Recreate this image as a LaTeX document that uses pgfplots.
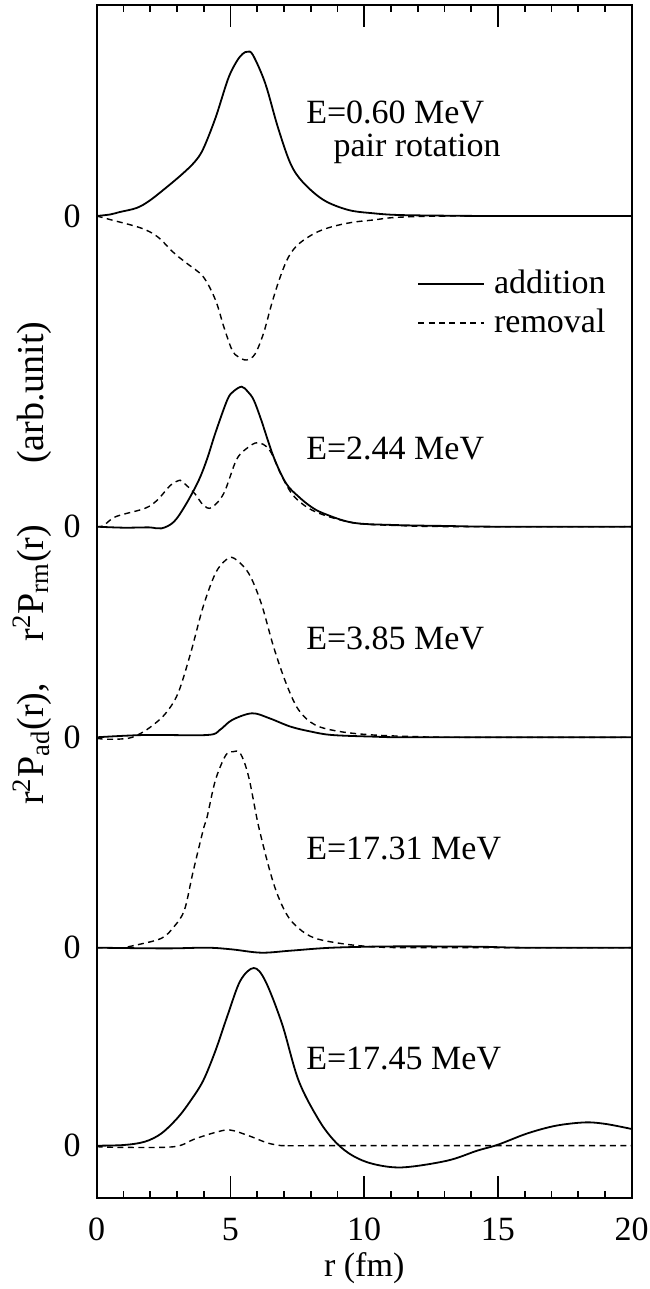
\documentclass[border=0pt]{standalone}
\usepackage{fontspec}
\setmainfont{Liberation Serif}
\usepackage{pgfplots}
\pgfplotsset{compat=1.18}
\usetikzlibrary{calc}
\begin{document}
\fontsize{17}{20}\selectfont
\begin{tikzpicture}
\begin{axis}[
  width=267.5pt, height=596.35pt, scale only axis,
  xmin=0, xmax=20, ymin=0, ymax=1192.7,
  xtick={0,5,10,15,20}, minor x tick num=4,
  major tick length=10.85pt, minor tick length=3.5pt,
  every tick/.style={black, line width=0.8pt},
  axis line style={line width=1pt},
  ytick={52,250,460.4,671,981.7}, yticklabels={0,0,0,0,0},
  ytick style={draw=none},
  /pgf/number format/assume math mode=true,
  xticklabel style={anchor=north, inner sep=0pt, yshift=-10pt},
  yticklabel style={anchor=east, inner sep=0pt, xshift=-7.8pt},
  legend style={at={(axis cs:11.97,894)}, anchor=west, draw=none, fill=none,
    inner sep=0pt, row sep=3pt, nodes={inner sep=1pt},
    /tikz/every odd column/.append style={column sep=3.5pt}},
  legend cell align=left,
  legend image code/.code={\draw[#1] (0pt,0pt) -- (33pt,0pt);},
  solid/.style={black, line width=0.9pt, smooth, tension=0.55},
  dsh/.style={black, line width=0.7pt, dash pattern=on 3pt off 2.2pt, smooth, tension=0.55},
]
\coordinate (bl) at (rel axis cs:0,0);
\coordinate (tr) at (rel axis cs:1,1);
% ---- E=0.60 MeV (baseline 981.7)
\addplot[solid] table[row sep=\\, y expr=\thisrowno{1}+981.7] {
0 0\\ 0.5 1.5\\ 0.87 4\\ 1.49 8\\ 1.96 15\\ 2.58 28\\ 3.2 42\\ 3.66 54\\ 3.98 67\\ 4.44 98\\ 4.91 137\\ 5.22 154\\ 5.45 162\\ 5.64 164.3\\ 5.84 161\\ 6.3 132.7\\ 6.77 89\\ 7.24 52.7\\ 7.7 34\\ 8.48 16\\ 9.41 6\\ 10.34 2.7\\ 11.27 1\\ 13.1 0.3\\ 15 0\\ 20 0\\
};
\addlegendentry{addition}
\addplot[dsh] table[row sep=\\, y expr=\thisrowno{1}+981.7] {
0 0\\ 0.56 -4\\ 1.65 -12\\ 2.27 -20.7\\ 2.89 -37\\ 3.35 -47\\ 3.98 -60.7\\ 4.44 -84\\ 4.75 -110.7\\ 5.06 -134\\ 5.3 -141\\ 5.61 -144\\ 5.92 -138\\ 6.24 -117\\ 6.55 -87\\ 6.86 -61\\ 7.17 -41\\ 7.55 -28\\ 8.17 -17\\ 8.8 -10.7\\ 9.57 -6.3\\ 10.34 -4\\ 11.27 -1.3\\ 13.45 0\\ 20 0\\
};
\addlegendentry{removal}
% ---- E=2.44 MeV (baseline 671)
\addplot[solid, forget plot] table[row sep=\\, y expr=\thisrowno{1}+671] {
0 0\\ 1.02 -1\\ 1.96 -0.7\\ 2.42 -1.7\\ 2.89 5\\ 3.35 23\\ 3.82 46.7\\ 4.13 68\\ 4.44 94\\ 4.88 126.7\\ 5.1 135\\ 5.42 140\\ 5.65 135\\ 5.87 126.7\\ 6.15 106.7\\ 6.61 70\\ 7.08 43.3\\ 7.55 30\\ 8.01 20\\ 8.48 13.3\\ 9.57 4\\ 11.1 1.7\\ 13.1 0.7\\ 15 0\\ 20 0\\
};
\addplot[dsh, forget plot] table[row sep=\\, y expr=\thisrowno{1}+671] {
0 0\\ 0.25 1\\ 0.71 10\\ 1.8 18.3\\ 2.27 26.7\\ 2.73 40.7\\ 3.05 46\\ 3.2 45\\ 3.66 33.3\\ 3.98 21.7\\ 4.29 19\\ 4.75 33.3\\ 5.22 66.7\\ 5.61 78.3\\ 6.02 84\\ 6.46 76.7\\ 6.93 50\\ 7.39 30\\ 8.17 15\\ 9.57 4\\ 11.1 1.3\\ 13.45 0\\ 20 0\\
};
% ---- E=3.85 MeV (baseline 460.4)
\addplot[solid, forget plot] table[row sep=\\, y expr=\thisrowno{1}+460.4] {
0 0\\ 1.8 2.3\\ 4.13 2.3\\ 4.6 7.3\\ 5.06 17.3\\ 5.81 24\\ 6.46 19\\ 7.24 10.7\\ 8.01 5.7\\ 8.79 2.3\\ 10.3 0.7\\ 11.9 0\\ 20 0\\
};
\addplot[dsh, forget plot] table[row sep=\\, y expr=\thisrowno{1}+460.4] {
0 -1\\ 0.4 -2\\ 1.18 -1\\ 1.65 4\\ 2.11 12.3\\ 2.58 24\\ 3.04 44\\ 3.51 84\\ 3.98 130.7\\ 4.44 164\\ 4.83 177.3\\ 5.14 179\\ 5.68 164\\ 6.15 134\\ 6.61 90.7\\ 7.08 54\\ 7.55 27.3\\ 8.17 12.3\\ 9.1 5.7\\ 10.34 2.3\\ 11.9 0.7\\ 13.45 0\\ 20 0\\
};
% ---- E=17.31 MeV (baseline 250)
\addplot[solid, forget plot] table[row sep=\\, y expr=\thisrowno{1}+250] {
0 0\\ 2.58 -0.7\\ 4.13 0\\ 5.06 -1.7\\ 6.15 -5\\ 7.24 -3\\ 8.8 0\\ 11.1 1.3\\ 14.2 1\\ 16 0\\ 20 0\\
};
\addplot[dsh, forget plot] table[row sep=\\, y expr=\thisrowno{1}+250] {
0 0\\ 1.02 0\\ 1.49 2.7\\ 2.42 9.4\\ 2.89 21\\ 3.28 37.7\\ 3.59 74.4\\ 3.98 117.7\\ 4.13 131\\ 4.44 167.7\\ 4.83 192.7\\ 5.1 196\\ 5.37 194.3\\ 5.68 171\\ 6.07 119.3\\ 6.61 64.4\\ 7.08 34.4\\ 7.55 19.4\\ 8.17 9.4\\ 9.26 3.7\\ 10.34 1\\ 11.9 0\\ 20 0\\
};
% ---- E=17.45 MeV (baseline 52)
\addplot[solid, forget plot] table[row sep=\\, y expr=\thisrowno{1}+52] {
0 0\\ 1.02 0.7\\ 1.8 4\\ 2.42 12.3\\ 3.04 28.3\\ 3.51 45\\ 3.98 65\\ 4.44 95\\ 4.91 131.7\\ 5.37 165\\ 5.87 177.7\\ 6.3 165\\ 6.93 121.7\\ 7.55 65\\ 8.32 25\\ 8.94 3.3\\ 9.57 -10\\ 10.34 -18.3\\ 11.43 -21.7\\ 13.1 -15\\ 14.22 -5\\ 15 1\\ 16.1 12.3\\ 17.17 20\\ 18.26 23.3\\ 19.04 21.7\\ 20 16.7\\
};
\addplot[dsh, forget plot] table[row sep=\\, y expr=\thisrowno{1}+52] {
0 -1\\ 1.02 -1.7\\ 2.89 -1\\ 3.66 6.7\\ 4.44 13.3\\ 4.98 15.7\\ 5.68 10\\ 6.3 3.5\\ 6.7 0.8\\ 7.08 0\\ 8 0\\ 20 0\\
};
% labels
\node[anchor=base west, inner sep=0pt] at (axis cs:7.82,1074.4) {E=0.60 MeV};
\node[anchor=base west, inner sep=0pt] at (axis cs:8.84,1041) {pair rotation};
\node[anchor=base west, inner sep=0pt] at (axis cs:7.82,738.4) {E=2.44 MeV};
\node[anchor=base west, inner sep=0pt] at (axis cs:7.82,547.7) {E=3.85 MeV};
\node[anchor=base west, inner sep=0pt] at (axis cs:7.82,338.4) {E=17.31 MeV};
\node[anchor=base west, inner sep=0pt] at (axis cs:7.82,127.7) {E=17.45 MeV};
\end{axis}
\node[anchor=base, inner sep=0pt] at ($(bl)!0.5!(bl -| tr)+(0,-39.6pt)$) {r (fm)};
\node[rotate=90, anchor=center, inner sep=0pt, font=\fontsize{19}{22}\selectfont] at ($(bl)!0.532!(bl |- tr)+(-32.35pt,0)$)
  {r\textsuperscript{2}P\textsubscript{ad}(r),\hspace{1.1em}r\textsuperscript{2}P\textsubscript{rm}(r)\hspace{1.6em}(arb.unit)};
\pgfresetboundingbox
\path ($(bl)+(-48.35pt,-45.65pt)$) rectangle ($(tr)+(9.15pt,2.5pt)$);
\end{tikzpicture}
\end{document}
